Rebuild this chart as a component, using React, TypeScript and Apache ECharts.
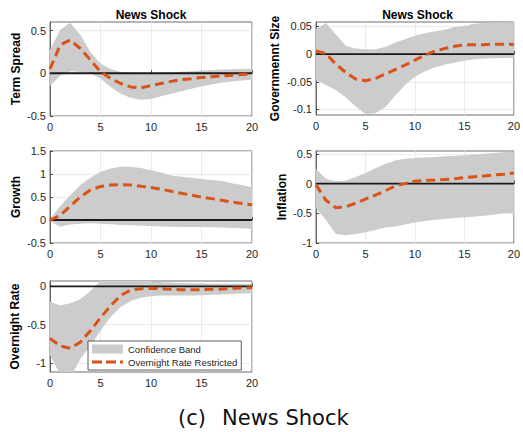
import React, { useEffect, useRef } from "react";
import * as echarts from "echarts";

// Horizon (quarters after shock)
const HORIZON = [0, 1, 2, 3, 4, 5, 6, 7, 8, 9, 10, 11, 12, 13, 14, 15, 16, 17, 18, 19, 20];

// Term Spread
const termMedian = [0.05, 0.33, 0.39, 0.29, 0.155, 0.02, -0.06, -0.12, -0.16, -0.17, -0.145, -0.12, -0.095, -0.075, -0.063, -0.05, -0.04, -0.03, -0.022, -0.015, -0.01];
const termUpper = [0.27, 0.51, 0.59, 0.45, 0.25, 0.115, 0.05, 0.016, 0.01, 0.005, 0.0, 0.005, 0.01, 0.018, 0.025, 0.032, 0.038, 0.043, 0.047, 0.05, 0.053];
const termLower = [-0.15, -0.03, 0.025, 0.015, 0.0, -0.06, -0.16, -0.24, -0.29, -0.31, -0.3, -0.27, -0.24, -0.21, -0.18, -0.155, -0.13, -0.11, -0.095, -0.085, -0.075];

// Government Size
const govMedian = [0.0055, 0.001, -0.018, -0.033, -0.045, -0.048, -0.044, -0.036, -0.028, -0.02, -0.011, -0.002, 0.0055, 0.01, 0.014, 0.0167, 0.017, 0.017, 0.018, 0.018, 0.0175];
const govUpper = [0.045, 0.056, 0.036, 0.015, 0.01, 0.0086, 0.0086, 0.013, 0.021, 0.027, 0.033, 0.0376, 0.041, 0.044, 0.049, 0.051, 0.055, 0.056, 0.057, 0.057, 0.058];
const govLower = [-0.047, -0.056, -0.065, -0.078, -0.094, -0.108, -0.107, -0.096, -0.075, -0.056, -0.041, -0.031, -0.024, -0.019, -0.015, -0.012, -0.0095, -0.008, -0.0075, -0.007, -0.007];

// Growth
const growthMedian = [0, 0.1, 0.3, 0.5, 0.65, 0.73, 0.76, 0.77, 0.76, 0.735, 0.705, 0.67, 0.625, 0.58, 0.54, 0.5, 0.465, 0.43, 0.39, 0.36, 0.33];
const growthUpper = [0.02, 0.3, 0.54, 0.76, 0.92, 1.05, 1.12, 1.16, 1.16, 1.13, 1.08, 1.03, 0.97, 0.94, 0.92, 0.89, 0.87, 0.85, 0.8, 0.76, 0.71];
const growthLower = [-0.02, -0.145, -0.1, -0.08, -0.07, -0.08, -0.095, -0.11, -0.115, -0.125, -0.13, -0.14, -0.145, -0.15, -0.15, -0.15, -0.16, -0.165, -0.175, -0.18, -0.19];

// Inflation
const inflMedian = [-0.02, -0.28, -0.405, -0.39, -0.33, -0.26, -0.195, -0.12, -0.04, 0.0, 0.04, 0.055, 0.06, 0.07, 0.083, 0.1, 0.117, 0.128, 0.145, 0.16, 0.178];
const inflUpper = [0.25, 0.083, 0.04, 0.05, 0.11, 0.18, 0.26, 0.33, 0.39, 0.42, 0.43, 0.44, 0.45, 0.46, 0.47, 0.48, 0.49, 0.505, 0.515, 0.53, 0.54];
const inflLower = [-0.42, -0.61, -0.85, -0.87, -0.85, -0.82, -0.78, -0.74, -0.72, -0.69, -0.655, -0.63, -0.61, -0.595, -0.58, -0.57, -0.555, -0.54, -0.52, -0.5, -0.49];

// Overnight Rate
const onMedian = [-0.68, -0.78, -0.81, -0.73, -0.58, -0.41, -0.255, -0.117, -0.048, -0.03, -0.026, -0.03, -0.039, -0.043, -0.043, -0.043, -0.039, -0.035, -0.026, -0.022, -0.017];
const onUpper = [-0.2, -0.25, -0.22, -0.17, -0.06, 0.07, 0.1, 0.11, 0.1, 0.08, 0.065, 0.055, 0.05, 0.045, 0.04, 0.04, 0.035, 0.035, 0.035, 0.035, 0.035];
const onLower = [-0.9, -1.15, -1.2, -0.95, -0.78, -0.58, -0.4, -0.27, -0.19, -0.15, -0.13, -0.12, -0.12, -0.12, -0.12, -0.115, -0.11, -0.105, -0.1, -0.095, -0.09];

// Tick labels
const X_TICKS = [0, 5, 10, 15, 20];
const termTicks = [-0.5, 0, 0.5];
const govTicks = [-0.1, -0.05, 0, 0.05];
const growthTicks = [-0.5, 0, 0.5, 1, 1.5];
const inflTicks = [-1, -0.5, 0, 0.5];
const onTicks = [-1, -0.5, 0];

const PANEL_TITLE = "News Shock";
const CAPTION_TAG = "(c)";
const CAPTION_TEXT = "News Shock";
const LEGEND_BAND = "Confidence Band";
const LEGEND_LINE = "Overnight Rate Restricted";

const FONT = "'Liberation Sans', Arial, Helvetica, sans-serif";
const BAND_COLOR = "#cccccc";
const LINE_COLOR = "#D95319";
const AXIS_COLOR = "#4a4a4a";

const panels = [
  { name: "Term Spread", median: termMedian, upper: termUpper, lower: termLower, ticks: termTicks, min: -0.5, max: 0.6, gap: 28,
    grid: { left: 50, top: 22, width: 202, height: 94 } },
  { name: "Governmennt Size", median: govMedian, upper: govUpper, lower: govLower, ticks: govTicks, min: -0.11, max: 0.058, gap: 35,
    grid: { left: 316, top: 22, width: 203, height: 93 } },
  { name: "Growth", median: growthMedian, upper: growthUpper, lower: growthLower, ticks: growthTicks, min: -0.5, max: 1.5, gap: 28,
    grid: { left: 50, top: 151, width: 202, height: 92 } },
  { name: "Inflation", median: inflMedian, upper: inflUpper, lower: inflLower, ticks: inflTicks, min: -1, max: 0.55, gap: 28,
    grid: { left: 316, top: 151, width: 202, height: 92 } },
  { name: "Overnight Rate", median: onMedian, upper: onUpper, lower: onLower, ticks: onTicks, min: -1.12, max: 0.07, gap: 29,
    grid: { left: 50, top: 281, width: 202, height: 91 } },
];

function pairs(vals: number[]) {
  return HORIZON.map((h, i) => [h, vals[i]]);
}

export default function App() {
  const ref = useRef<HTMLDivElement>(null);

  useEffect(() => {
    document.body.style.margin = "0";
    if (!ref.current) return;
    const chart = echarts.init(ref.current, undefined, { renderer: "svg" });

    const grid: any[] = [];
    const xAxis: any[] = [];
    const yAxis: any[] = [];
    const series: any[] = [];

    panels.forEach((p, i) => {
      grid.push({ ...p.grid, show: true, borderColor: AXIS_COLOR, borderWidth: 0.8, backgroundColor: "#fff", containLabel: false });
      xAxis.push({
        type: "value", gridIndex: i, min: 0, max: 20, interval: 5,
        axisLine: { show: true, lineStyle: { color: AXIS_COLOR, width: 0.8 } },
        axisTick: { show: true, inside: true, length: 3, lineStyle: { color: AXIS_COLOR } },
        axisLabel: { fontSize: 11, color: "#262626", fontFamily: FONT, margin: 5, customValues: X_TICKS },
        splitLine: { show: true, lineStyle: { color: "#e6e6e6", width: 0.8 } },
      });
      yAxis.push({
        type: "value", gridIndex: i, min: p.min, max: p.max,
        name: p.name, nameLocation: "middle", nameGap: p.gap,
        nameTextStyle: { fontSize: 12, fontWeight: "bold", color: "#000", fontFamily: FONT },
        axisLine: { show: true, lineStyle: { color: AXIS_COLOR, width: 0.8 } },
        axisTick: { show: true, inside: true, length: 3, lineStyle: { color: AXIS_COLOR }, customValues: p.ticks },
        axisLabel: { fontSize: 11, color: "#262626", fontFamily: FONT, margin: 4, customValues: p.ticks },
        splitLine: { show: true, lineStyle: { color: "#e6e6e6", width: 0.8 } },
      });
      const upper = p.upper;
      const lower = p.lower;
      series.push({
        type: "custom", name: i === 4 ? LEGEND_BAND : "band" + i, xAxisIndex: i, yAxisIndex: i,
        data: HORIZON.map((h, k) => [h, lower[k], upper[k]]),
        encode: { x: 0, y: [1, 2] },
        itemStyle: { color: BAND_COLOR },
        silent: true, z: 1,
        renderItem: (params: any, api: any) => {
          if (params.dataIndex !== 0) return null;
          const top = HORIZON.map((h, k) => api.coord([h, upper[k]]));
          const bot = HORIZON.map((h, k) => api.coord([h, lower[k]])).reverse();
          const cs = params.coordSys;
          return {
            type: "polygon",
            shape: { points: top.concat(bot) },
            style: { fill: BAND_COLOR, stroke: "none" },
            clipPath: { type: "rect", shape: { x: cs.x, y: cs.y, width: cs.width, height: cs.height } },
          };
        },
      });
      series.push({
        type: "line", name: "zero" + i, xAxisIndex: i, yAxisIndex: i,
        data: [[HORIZON[0], 0], [HORIZON[HORIZON.length - 1], 0]],
        symbol: "none", lineStyle: { color: "#1a1a1a", width: 1.8 }, silent: true, z: 2,
      });
      series.push({
        type: "line", name: i === 4 ? LEGEND_LINE : "median" + i, xAxisIndex: i, yAxisIndex: i,
        data: pairs(p.median), symbol: "none",
        lineStyle: { color: LINE_COLOR, width: 3, type: [9, 5] }, itemStyle: { color: LINE_COLOR },
        silent: true, z: 3,
      });
    });

    chart.setOption({
      animation: false,
      grid, xAxis, yAxis, series,
      legend: {
        left: 88, top: 341, orient: "vertical",
        backgroundColor: "#fff", borderColor: "#333", borderWidth: 0.8,
        padding: [3, 4, 3, 4], itemGap: 3, itemWidth: 31, itemHeight: 9,
        textStyle: { fontSize: 9.5, color: "#262626", fontFamily: FONT },
        selectedMode: false,
        data: [
          { name: LEGEND_BAND, icon: "rect", itemStyle: { color: BAND_COLOR } },
          { name: LEGEND_LINE, icon: "path://M0,0H10V3H0Z M14,0H24V3H14Z M28,0H31V3H28Z", itemStyle: { color: LINE_COLOR } },
        ],
      },
      graphic: [
        { type: "text", x: 151, y: 15, style: { text: PANEL_TITLE, align: "center", verticalAlign: "middle", fontSize: 12, fontWeight: "bold", fontFamily: FONT, fill: "#000" } },
        { type: "text", x: 417.5, y: 15, style: { text: PANEL_TITLE, align: "center", verticalAlign: "middle", fontSize: 12, fontWeight: "bold", fontFamily: FONT, fill: "#000" } },
        { type: "text", x: 178, y: 418, style: { text: CAPTION_TAG, align: "left", verticalAlign: "middle", fontSize: 21, fontFamily: "'DejaVu Sans', sans-serif", fill: "#111" } },
        { type: "text", x: 222, y: 418, style: { text: CAPTION_TEXT, align: "left", verticalAlign: "middle", fontSize: 21, fontFamily: "'DejaVu Sans', sans-serif", fill: "#111" } },
      ],
    });

    return () => chart.dispose();
  }, []);

  return <div ref={ref} style={{ width: 523, height: 432 }} />;
}
